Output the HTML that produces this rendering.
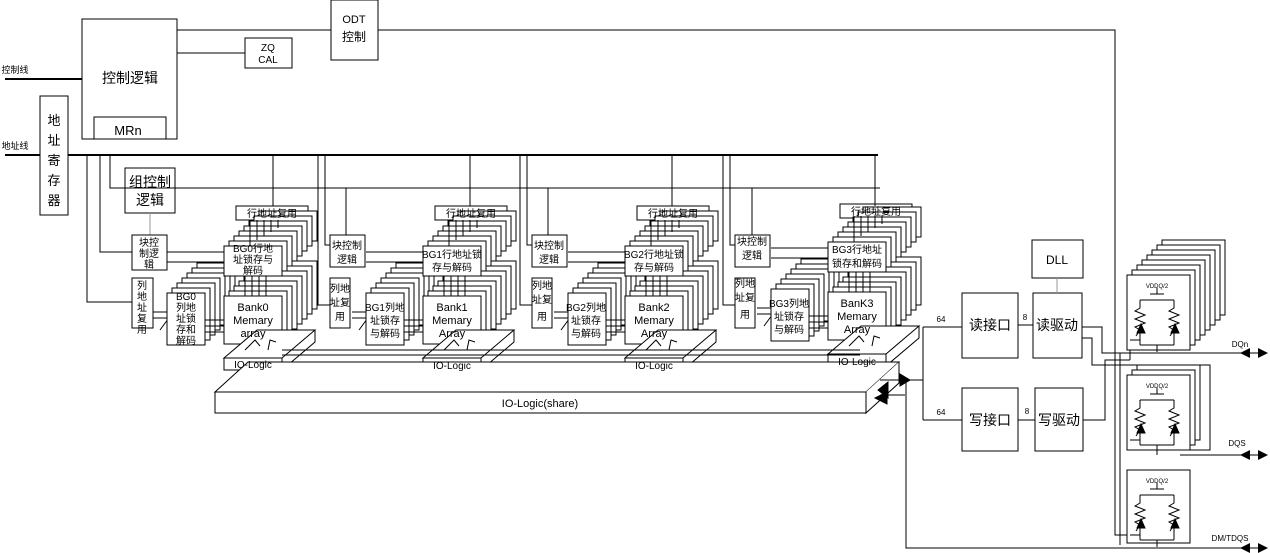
<!DOCTYPE html>
<html><head><meta charset="utf-8"><style>
html,body{margin:0;padding:0;background:#fff;}
svg{display:block;font-family:"Liberation Sans","Noto Sans CJK SC",sans-serif;}
</style></head><body>
<svg width="1270" height="553" viewBox="0 0 1270 553" xmlns="http://www.w3.org/2000/svg">
<defs>
<g id="bankst" fill="#fff" stroke="#000" stroke-width="1">
<rect x="35" y="-35" width="58" height="48"/><rect x="30" y="-30" width="58" height="48"/><rect x="25" y="-25" width="58" height="48"/><rect x="20" y="-20" width="58" height="48"/><rect x="15" y="-15" width="58" height="48"/><rect x="10" y="-10" width="58" height="48"/><rect x="5" y="-5" width="58" height="48"/><rect x="0" y="0" width="58" height="48"/>
</g>
<g id="rowst" fill="#fff" stroke="#000" stroke-width="1">
<rect x="35" y="-35" width="58" height="30"/><rect x="30" y="-30" width="58" height="30"/><rect x="25" y="-25" width="58" height="30"/><rect x="20" y="-20" width="58" height="30"/><rect x="15" y="-15" width="58" height="30"/><rect x="10" y="-10" width="58" height="30"/><rect x="5" y="-5" width="58" height="30"/><rect x="0" y="0" width="58" height="30"/>
</g>
<g id="colst" fill="#fff" stroke="#000" stroke-width="1">
<rect x="30" y="-30" width="38" height="52"/><rect x="25" y="-25" width="38" height="52"/><rect x="20" y="-20" width="38" height="52"/><rect x="15" y="-15" width="38" height="52"/><rect x="10" y="-10" width="38" height="52"/><rect x="5" y="-5" width="38" height="52"/><rect x="0" y="0" width="38" height="52"/>
</g>
<g id="grp" stroke="#000" stroke-width="1" fill="none">
<path d="M167,252 H235 M167,262 H228 M153,318 H175 M153,312 H170"/>
<path d="M160,330 L210,262 M170,330 L225,262" />
<use href="#colst" x="167" y="293"/>
<use href="#bankst" x="224" y="296"/>
<use href="#rowst" x="224" y="246"/>
<path d="M205,320 H224 M205,326 H224 M205,332 H224"/>
<path d="M245,276 V296 M252,276 V296 M259,276 V296 M266,276 V296"/>
<path d="M250,220 V246 M257,220 V240 M264,220 V236 M271,220 V232 M278,220 V228"/>
<path d="M224,358 L257,330 H315 L282,358 Z M282,358 V370 L315,342 V330" fill="#fff"/>
<rect x="224" y="358" width="58" height="12" fill="#fff"/>
<path d="M245,350 L255,340 L260,346 M268,350 L270,340 L276,342"/>
</g>
<g id="drv" stroke="#000" stroke-width="1" fill="none">
<path d="M1157,288 V294 M1150,294 H1164 M1140,300 H1174 M1140,300 V308 l-5,3 10,4 -10,4 10,4 -10,4 5,3 V330 M1174,300 V308 l-5,3 10,4 -10,4 10,4 -10,4 5,3 V330 M1140,332 V345 M1174,332 V345 M1140,345 H1174 M1157,345 V352"/>
<path d="M1140,330 l-4,6 M1174,330 l-4,6"/>
<path d="M1137,333 l4,-9 4,9 Z M1171,333 l4,-9 4,9 Z" fill="#000"/>
<path d="M1130,340 H1140"/>
</g>
</defs>

<g stroke="#000" stroke-width="1" fill="none">
<rect x="82" y="19" width="95" height="120"/>
<rect x="94" y="117" width="72" height="22"/>
<rect x="245" y="38" width="47" height="30"/>
<rect x="331" y="0" width="47" height="60"/>
<path d="M177,30 H331 M177,53 H245 M378,30 H1115 V535 H1127"/>
<path d="M5,79 H82" stroke-width="2"/>
<rect x="40" y="96" width="28" height="119"/>
<path d="M5,155 H40 M68,155 H878" stroke-width="2"/>
<path d="M110,188 H880"/>
<rect x="125" y="168" width="50" height="45"/>
<path d="M150,213 V235" stroke="#999"/>
<path d="M87,155 V302 H132 M100,155 V252 H132 M110,155 V188 H125 M273,155 V206"/>
<rect x="132" y="235" width="35" height="35"/>
<rect x="132" y="278" width="21" height="50"/>
<rect x="236" y="206" width="72" height="14"/>
<path d="M318,155 V305 H330 M325,155 V245 H330 M346,188 V235 M470,155 V206"/>
<rect x="330" y="235" width="35" height="32"/>
<rect x="330" y="278" width="20" height="50"/>
<rect x="435" y="206" width="72" height="14"/>
<path d="M520,155 V305 H532 M527,155 V245 H532 M548,188 V235 M672,155 V206"/>
<rect x="532" y="235" width="35" height="32"/>
<rect x="532" y="278" width="20" height="50"/>
<rect x="637" y="206" width="72" height="14"/>
<path d="M723,155 V305 H735 M730,155 V245 H735 M752,188 V235 M875,155 V206"/>
<rect x="735" y="235" width="35" height="32"/>
<rect x="735" y="278" width="20" height="50"/>
<rect x="840" y="204" width="72" height="14"/>
</g>

<use href="#grp"/>
<use href="#grp" transform="translate(199,0)"/>
<use href="#grp" transform="translate(401,0)"/>
<use href="#grp" transform="translate(604,-4)"/>

<g stroke="#000" stroke-width="1" fill="none">
<path d="M282,350 H860 M282,355 H860 M430,372 L585,382 L870,372"/>
<path d="M215,392 L248,362 H899 L866,392 Z" fill="#fff"/>
<path d="M866,392 V413 L899,383 V362" fill="#fff"/>
<rect x="215" y="392" width="651" height="21" fill="#fff"/>
<path d="M880,380 H923 M880,395 H905"/>
<path d="M878,390 l10,-8 0,16 Z M910,380 l-10,-6 0,12 Z M875,398 l12,-6 0,12 Z" fill="#000"/>
<path d="M906,382 V548 H1265"/>
<path d="M923,327 V420 M923,327 H962 M923,420 H962 M1018,325 H1033 M1018,420 H1035"/>
<rect x="962" y="293" width="56" height="65"/>
<rect x="1033" y="293" width="49" height="65"/>
<rect x="962" y="388" width="56" height="63"/>
<rect x="1035" y="388" width="48" height="63"/>
<rect x="1032" y="240" width="51" height="38"/>
<path d="M1057,278 V293" stroke="#999"/>
<path d="M1082,327 H1102 V353 H1265 M1082,338 H1092 V365 H1210 V450 H1130 M1083,420 H1105 V360 H1130 M1130,350 V360 M1180,455 H1265 M1157,450 V455"/>
<g fill="#fff">
<rect x="1162" y="240" width="63" height="75"/><rect x="1157" y="245" width="63" height="75"/><rect x="1152" y="250" width="63" height="75"/><rect x="1147" y="255" width="63" height="75"/><rect x="1142" y="260" width="63" height="75"/><rect x="1137" y="265" width="63" height="75"/><rect x="1132" y="270" width="63" height="75"/><rect x="1127" y="275" width="63" height="75"/>
<rect x="1137" y="365" width="63" height="75"/><rect x="1132" y="370" width="63" height="75"/><rect x="1127" y="375" width="63" height="75"/>
<rect x="1127" y="470" width="63" height="73"/>
</g>
<path d="M1120,353 V545"/>
</g>
<use href="#drv"/>
<use href="#drv" transform="translate(0,100)"/>
<use href="#drv" transform="translate(0,195)"/>
<g fill="#000">
<path d="M1240,353 l10,-5 0,10 Z M1268,353 l-10,-5 0,10 Z M1240,455 l10,-5 0,10 Z M1268,455 l-10,-5 0,10 Z M1240,548 l10,-5 0,10 Z M1268,548 l-10,-5 0,10 Z"/>
</g>

<g font-size="13" text-anchor="middle" fill="#000">
<text x="130" y="83" font-size="14">控制逻辑</text>
<text x="128" y="135" font-size="13">MRn</text>
<text x="268" y="51" font-size="10">ZQ</text>
<text x="268" y="63" font-size="10">CAL</text>
<text x="354" y="23" font-size="11">ODT</text>
<text x="354" y="41" font-size="12">控制</text>
<text x="54" y="125" font-size="13">地</text>
<text x="54" y="145" font-size="13">址</text>
<text x="54" y="165" font-size="13">寄</text>
<text x="54" y="185" font-size="13">存</text>
<text x="54" y="205" font-size="13">器</text>
<text x="150" y="187" font-size="14">组控制</text>
<text x="150" y="205" font-size="14">逻辑</text>
<g font-size="10">
<text x="272" y="217">行地址复用</text><text x="471" y="217">行地址复用</text><text x="673" y="217">行地址复用</text><text x="876" y="215">行地址复用</text>
<text x="149" y="246">块控</text><text x="149" y="257">制逻</text><text x="149" y="268">辑</text>
<text x="142" y="289">列</text><text x="142" y="300">地</text><text x="142" y="311">址</text><text x="142" y="322">复</text><text x="142" y="333">用</text>
<text x="186" y="300">BG0</text><text x="186" y="311">列地</text><text x="186" y="322">址锁</text><text x="186" y="333">存和</text><text x="186" y="344">解码</text>
<text x="253" y="252">BG0行地</text><text x="253" y="263">址锁存与</text><text x="253" y="274">解码</text>
<text x="347" y="249">块控制</text><text x="347" y="263">逻辑</text>
<text x="340" y="292">列地</text><text x="340" y="306">址复</text><text x="340" y="320">用</text>
<text x="385" y="311">BG1列地</text><text x="385" y="324">址锁存</text><text x="385" y="337">与解码</text>
<text x="452" y="258">BG1行地址锁</text><text x="452" y="271">存与解码</text>
<text x="549" y="249">块控制</text><text x="549" y="263">逻辑</text>
<text x="542" y="289">列地</text><text x="542" y="303">址复</text><text x="542" y="320">用</text>
<text x="586" y="311">BG2列地</text><text x="586" y="324">址锁存</text><text x="586" y="337">与解码</text>
<text x="654" y="258">BG2行地址锁</text><text x="654" y="271">存与解码</text>
<text x="752" y="245">块控制</text><text x="752" y="259">逻辑</text>
<text x="745" y="287">列地</text><text x="745" y="301">址复</text><text x="745" y="318">用</text>
<text x="789" y="307">BG3列地</text><text x="789" y="320">址锁存</text><text x="789" y="333">与解码</text>
<text x="857" y="253">BG3行地址</text><text x="857" y="267">锁存和解码</text>
<text x="253" y="368">IO-Logic</text><text x="452" y="369">IO-Logic</text><text x="654" y="369">IO-Logic</text><text x="857" y="365">IO-Logic</text>
</g>
<g font-size="11">
<text x="253" y="311">Bank0</text><text x="253" y="324">Memary</text><text x="253" y="337">array</text>
<text x="452" y="311">Bank1</text><text x="452" y="324">Memary</text><text x="452" y="337">Array</text>
<text x="654" y="311">Bank2</text><text x="654" y="324">Memary</text><text x="654" y="337">Array</text>
<text x="857" y="307">BanK3</text><text x="857" y="320">Memary</text><text x="857" y="333">Array</text>
</g>
<text x="540" y="407" font-size="11">IO-Logic(share)</text>
<text x="1057" y="264" font-size="12">DLL</text>
<text x="990" y="330" font-size="14">读接口</text>
<text x="1057" y="330" font-size="14">读驱动</text>
<text x="990" y="425" font-size="14">写接口</text>
<text x="1059" y="425" font-size="14">写驱动</text>
<g font-size="8">
<text x="941" y="322">64</text><text x="941" y="415">64</text><text x="1025" y="320">8</text><text x="1027" y="414">8</text>
<text x="1157" y="288" font-size="6">VDDQ/2</text><text x="1157" y="388" font-size="6">VDDQ/2</text><text x="1157" y="483" font-size="6">VDDQ/2</text>
<text x="1240" y="347">DQn</text><text x="1237" y="446">DQS</text><text x="1230" y="541">DM/TDQS</text>
</g>
<text x="15" y="73" font-size="9">控制线</text>
<text x="15" y="149" font-size="9">地址线</text>
</g>
</svg>
</body></html>
